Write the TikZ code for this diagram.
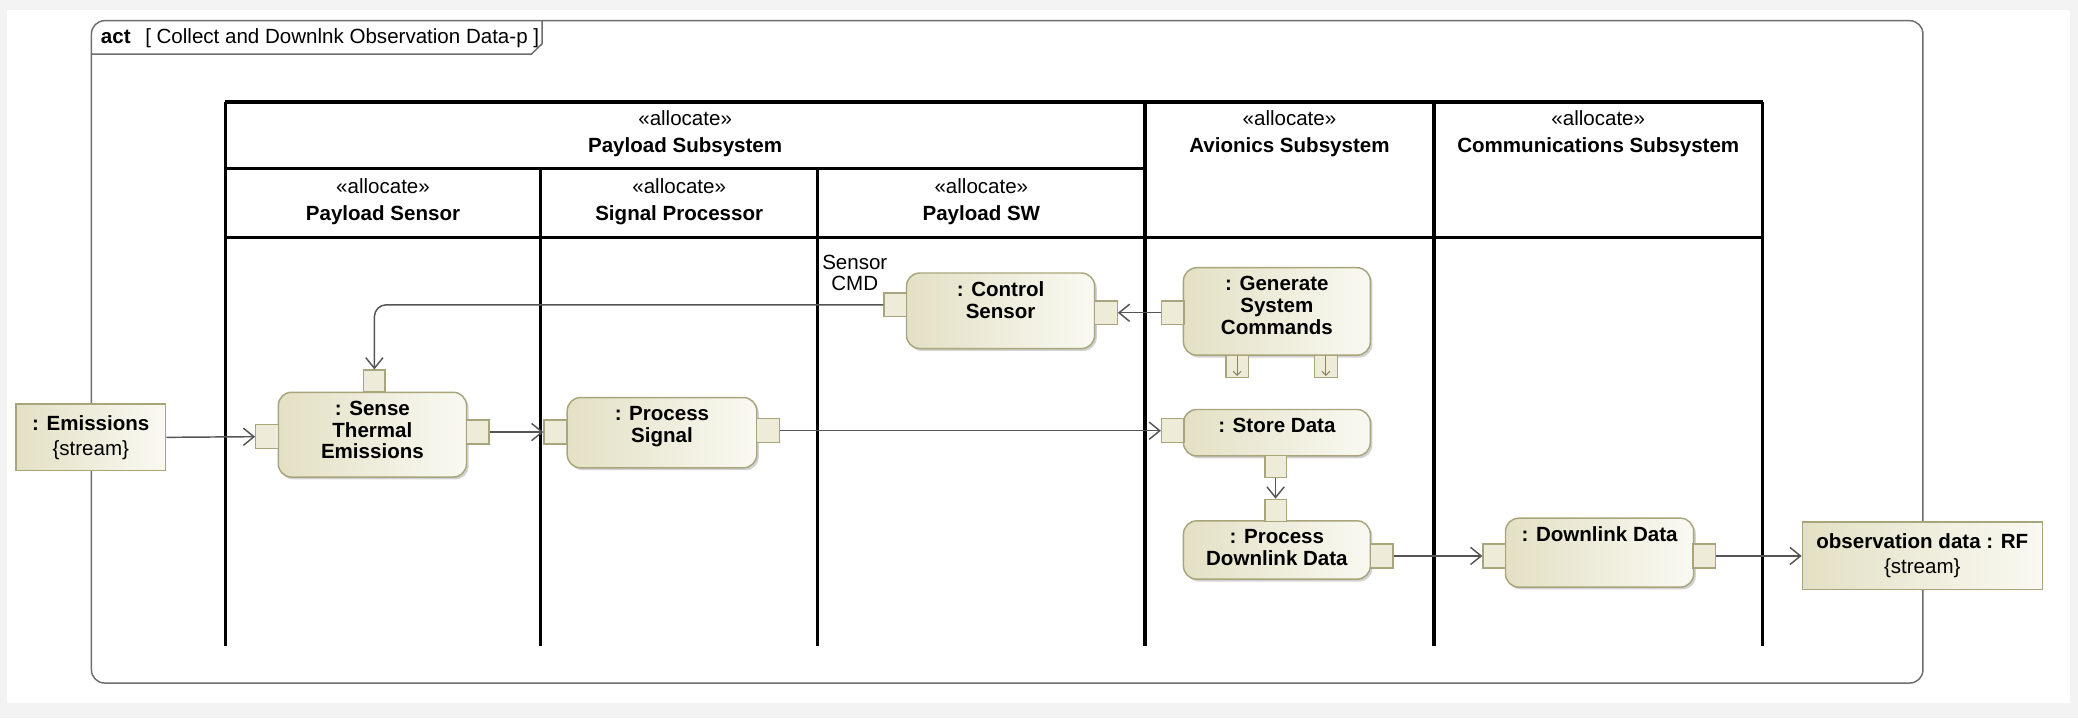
\documentclass[tikz,border=0pt]{standalone}
\usepackage{fontspec}
\setmainfont{Liberation Sans}
\usetikzlibrary{arrows.meta,shadows}
\definecolor{actL}{HTML}{E3E0C4}
\definecolor{actR}{HTML}{F9F9F2}
\definecolor{actB}{HTML}{A8A57C}
\definecolor{pinF}{HTML}{EEECD9}
\definecolor{lineC}{HTML}{555555}
\definecolor{frameC}{HTML}{6E6E6E}
\definecolor{bgC}{HTML}{F3F3F3}
\tikzset{
 base/.style={font=\fontsize{15.5}{16.4}\selectfont},
 action/.style={draw=actB, line width=1.1pt, rounded corners=10pt, left color=actL, right color=actR,
   drop shadow={shadow xshift=1.6pt, shadow yshift=-1.8pt, opacity=0.35, fill=black!50}, inner sep=0pt},
 objbox/.style={draw=actB, line width=1.1pt, left color=actL, right color=actR, align=center, inner sep=0pt,
   font=\fontsize{15.5}{19}\selectfont},
 pinbox/.style={draw=actB, line width=1pt, fill=pinF, inner sep=0pt, minimum width=17pt, minimum height=18pt},
 vpin/.style={pinbox, minimum width=16pt, minimum height=16.5pt},
 lbl/.style={anchor=north, inner sep=0pt, yshift=-7pt, align=center, font=\fontsize{15.5}{16.4}\selectfont\bfseries},
 flow/.style={draw=lineC, line width=1.1pt, -{Straight Barb[length=8pt,width=13pt,line width=1.1pt]}},
 pinarrow/.style={draw=actB!80!black, line width=0.8pt, shorten <=1pt, shorten >=1.5pt, -{Straight Barb[length=3pt,width=6pt,line width=0.8pt]}},
 lane/.style={line width=2.6pt, black},
 hdr/.style={align=center, inner sep=0pt, font=\fontsize{15.5}{20.5}\selectfont},
 framebox/.style={draw=frameC, line width=1.1pt, rounded corners=10pt, inner sep=0pt},
}
\begin{document}
\begin{tikzpicture}[x=1pt, y=-1pt]
\useasboundingbox (0,0) rectangle (1568,541.8);
\fill[bgC] (0,0) rectangle (1568,541.8);
\fill[white] (5.3,7.5) rectangle (1562,530.5);

% frame
\node[framebox, minimum width=1382pt, minimum height=499.8pt] (frame) at (760,265.5) {};
\draw[frameC, line width=1.1pt] (69,40.8) -- (401,40.8) -- (409,33) -- (409,15.6);
\node[anchor=west, inner sep=0pt, font=\fontsize{15.5}{16.4}\selectfont] (title) at (76,28.5)
  {\textbf{act}\hspace{11pt}[ Collect and Downlnk Observation Data-p ]};

% swimlanes
\draw[lane] (170,77) -- (1330,77);
\draw[lane] (170,127) -- (864,127);
\draw[lane] (170,179) -- (1330,179);
\draw[lane] (170,77) -- (170,487.5);
\draw[lane] (408,127) -- (408,487.5);
\draw[lane] (617,127) -- (617,487.5);
\draw[lane] (864,77) -- (864,487.5);
\draw[lane] (1082,77) -- (1082,487.5);
\draw[lane] (1330,77) -- (1330,487.5);

\node[hdr] (hPay) at (517,101) {«allocate»\\\textbf{Payload Subsystem}};
\node[hdr] (hAv) at (973,101) {«allocate»\\\textbf{Avionics Subsystem}};
\node[hdr] (hCom) at (1206,101) {«allocate»\\\textbf{Communications Subsystem}};
\node[hdr] (hSen) at (289,152) {«allocate»\\\textbf{Payload Sensor}};
\node[hdr] (hSig) at (512.5,152) {«allocate»\\\textbf{Signal Processor}};
\node[hdr] (hSW) at (740.5,152) {«allocate»\\\textbf{Payload SW}};

% object nodes
\node[objbox, minimum width=113pt, minimum height=50pt] (em) at (68.5,330) {\textbf{: Emissions}\\\{stream\}};
\node[objbox, minimum width=181pt, minimum height=51pt] (obs) at (1450.5,419.5) {\textbf{observation data : RF}\\\{stream\}};

% actions
\node[action, minimum width=142pt, minimum height=64pt, label={[lbl]north:{: Sense\\Thermal\\Emissions}}] (sense) at (281,328) {};
\node[action, minimum width=143pt, minimum height=53pt, label={[lbl]north:{: Process\\Signal}}] (ps) at (499.5,326.5) {};
\node[action, minimum width=142pt, minimum height=57pt, label={[lbl]north:{: Control\\Sensor}}] (cs) at (755,234.5) {};
\node[action, minimum width=141pt, minimum height=66pt, label={[lbl]north:{: Generate\\System\\Commands}}] (gen) at (963.5,235) {};
\node[action, minimum width=141pt, minimum height=35pt, label={[lbl]north:{: Store Data}}] (sd) at (963.5,326.5) {};
\node[action, minimum width=141pt, minimum height=44pt, label={[lbl]north:{: Process\\Downlink Data}}] (pdd) at (963.5,415) {};
\node[action, minimum width=142pt, minimum height=52pt, label={[lbl]north:{: Downlink Data}}] (dd) at (1207,417) {};

% pins
\node[vpin] (senseT) at (282.5,287.5) {};
\node[pinbox] (senseL) at (201.5,329.5) {};
\node[pinbox] (senseR) at (360.5,326) {};
\node[pinbox] (psL) at (419,326) {};
\node[pinbox] (psR) at (579.5,325) {};
\node[pinbox] (csL) at (675.5,230) {};
\node[pinbox] (csR) at (834.5,236) {};
\node[pinbox] (genL) at (885,236) {};
\node[vpin, minimum width=17pt] (genB1) at (933.5,276.5) {};
\node[vpin, minimum width=17pt] (genB2) at (1000.5,276.5) {};
\node[pinbox] (sdL) at (885,325) {};
\node[vpin] (sdB) at (962.5,352) {};
\node[vpin] (pddT) at (962.5,385) {};
\node[pinbox] (pddR) at (1042.5,419.5) {};
\node[pinbox] (ddL) at (1127.5,419.5) {};
\node[pinbox] (ddR) at (1286,419.5) {};

\draw[pinarrow] (genB1.north) -- (genB1.south);
\draw[pinarrow] (genB2.north) -- (genB2.south);

% label
\node[base, align=center, inner sep=0pt] (scmd) at (645,206) {Sensor\\CMD};

% flows
\draw[flow] (em.east) -- (senseL.west);
\draw[flow] (senseR.east) -- (psL.west);
\draw[flow] (psR.east) -- (sdL.west);
\draw[flow] (sdB.south) -- (pddT.north);
\draw[flow] (pddR.east) -- (ddL.west);
\draw[flow] (ddR.east) -- (obs.west);
\draw[flow] (genL.west) -- (csR.east);
\draw[flow, rounded corners=9pt] (csL.west) -| (senseT.north);
\end{tikzpicture}
\end{document}
